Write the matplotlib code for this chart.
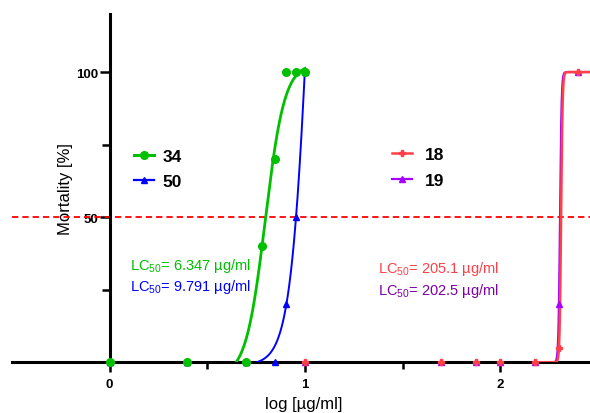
import numpy as np
import matplotlib
matplotlib.use("Agg")
import matplotlib.pyplot as plt
from matplotlib.ticker import FixedLocator

plt.rcParams['font.family'] = ['Liberation Sans', 'DejaVu Sans']
plt.rcParams['mathtext.fontset'] = 'custom'
plt.rcParams['mathtext.rm'] = 'Liberation Sans'

# ---- data (concentrations in µg/ml, mortality in %) ----
conc_34 = [1, 2.5, 5, 6, 7, 8, 9, 10]
mort_34 = [0, 0, 0, 40, 70, 100, 100, 100]

conc_50 = [1, 2.5, 5, 7, 8, 9, 10]
mort_50 = [0, 0, 0, 0, 20, 50, 100]

conc_18 = [1, 2.5, 5, 10, 50, 75, 100, 150, 200, 250]
mort_18 = [0, 0, 0, 0, 0, 0, 0, 0, 5, 100]

conc_19 = [1, 2.5, 5, 10, 50, 75, 100, 150, 200, 250]
mort_19 = [0, 0, 0, 0, 0, 0, 0, 0, 20, 100]

# fitted dose-response curve parameters (bottom, top, logLC50, hill slope)
fit_34 = (-5, 103, 0.797, 8.8)
fit_50 = (-1, 300, 1.033, 8.8)
fit_18 = (0, 100, 2.312, 115)
fit_19 = (0, 100, 2.3064, 110)

lc50_labels = {
    '34': 'LC$_{\\mathregular{50}}$= 6.347 µg/ml',
    '50': 'LC$_{\\mathregular{50}}$= 9.791 µg/ml',
    '18': 'LC$_{\\mathregular{50}}$= 205.1 µg/ml',
    '19': 'LC$_{\\mathregular{50}}$= 202.5 µg/ml',
}

x_ticks = [0, 1, 2]
x_minor = [0.5, 1.5]
y_ticks = [50, 100]
y_minor = [25, 75]

GREEN = '#00C000'
BLUE = '#0000FF'
RED = '#FF4048'
PURPLE = '#A600FF'
PURPLE_TXT = '#7E00A6'


def fourpl(x, p):
    b, t, c, h = p
    return b + (t - b) / (1.0 + 10 ** ((c - x) * h))


fig = plt.figure(figsize=(5.9, 4.14), dpi=100)
ax = fig.add_axes([12 / 590, (414 - 363.3) / 414, 578 / 590, (363.3 - 15) / 414])
ax.set_xlim(-0.5, 2.46)
ax.set_ylim(0, 120)

# fitted curves
xg = np.linspace(0.6, 1.0, 400)
yg = fourpl(xg, fit_34)
m = yg >= 0
xb = np.linspace(0.7, 1.0, 400)
yb = fourpl(xb, fit_50)
mb = yb >= 0
xr = np.linspace(np.log10(150), 2.5, 800)

ax.plot(xr, fourpl(xr, fit_19), color=PURPLE, lw=1.6, zorder=3)
ax.plot(xr, fourpl(xr, fit_18), color=RED, lw=1.8, zorder=3.1)
ax.plot(xb[mb], yb[mb], color=BLUE, lw=1.4, zorder=3.2)
ax.plot(xg[m], yg[m], color=GREEN, lw=2.0, zorder=3.3)

# data points
ax.plot(np.log10(conc_19), mort_19, ls='none', marker='^', ms=5, color=PURPLE, zorder=4, clip_on=False)
ax.plot(np.log10(conc_18), mort_18, ls='none', marker='P', ms=4.5, color=RED, zorder=4.1, clip_on=False)
ax.plot(np.log10(conc_50), mort_50, ls='none', marker='^', ms=5, color=BLUE, zorder=4.2, clip_on=False)
ax.plot(np.log10(conc_34), mort_34, ls='none', marker='o', ms=5.5, color=GREEN, zorder=4.3, clip_on=False)

# 50 % line
ax.axhline(50, color='#FF0000', lw=1.3, ls=(0, (3.5, 2.2)), zorder=2)

# legend handles
h34, = ax.plot([], [], color=GREEN, lw=2.2, marker='o', ms=5.5, label='34')
h50, = ax.plot([], [], color=BLUE, lw=1.6, marker='^', ms=5, label='50')
h18, = ax.plot([], [], color=RED, lw=1.8, marker='P', ms=4.5, label='18')
h19, = ax.plot([], [], color=PURPLE, lw=1.6, marker='^', ms=5, label='19')

leg1 = ax.legend(handles=[h34, h50], loc='center left',
                 bbox_to_anchor=(134 / 590, 1 - 170 / 414), bbox_transform=fig.transFigure,
                 frameon=False, borderpad=0, borderaxespad=0, handlelength=1.15,
                 handletextpad=0.5, labelspacing=0.6, prop={'size': 12.5, 'weight': 'bold'})
ax.add_artist(leg1)
ax.legend(handles=[h18, h19], loc='center left',
          bbox_to_anchor=(392 / 590, 1 - 168.5 / 414), bbox_transform=fig.transFigure,
          frameon=False, borderpad=0, borderaxespad=0, handlelength=1.15,
          handletextpad=0.75, labelspacing=0.6, prop={'size': 12.5, 'weight': 'bold'})

# LC50 annotations
fig.text(130 / 590, 1 - 266 / 414, lc50_labels['34'], color=GREEN, fontsize=10.5, va='center', ha='left')
fig.text(130 / 590, 1 - 287 / 414, lc50_labels['50'], color=BLUE, fontsize=10.5, va='center', ha='left')
fig.text(377.5 / 590, 1 - 269 / 414, lc50_labels['18'], color=RED, fontsize=10.5, va='center', ha='left')
fig.text(377.5 / 590, 1 - 291 / 414, lc50_labels['19'], color=PURPLE_TXT, fontsize=10.5, va='center', ha='left')

# axes styling
for s in ['top', 'right']:
    ax.spines[s].set_visible(False)
ax.spines['left'].set_position(('data', 0))
ax.spines['left'].set_linewidth(2.2)
ax.spines['bottom'].set_linewidth(2.2)

ax.xaxis.set_major_locator(FixedLocator(x_ticks))
ax.xaxis.set_minor_locator(FixedLocator(x_minor))
ax.yaxis.set_major_locator(FixedLocator(y_ticks))
ax.yaxis.set_minor_locator(FixedLocator(y_minor))
ax.set_xticklabels([str(v) for v in x_ticks], fontsize=9.5, fontweight='bold')
ax.set_yticklabels([str(v) for v in y_ticks], fontsize=9.5, fontweight='bold')
ax.tick_params(axis='x', which='major', direction='out', length=7, width=1.8, pad=4.5)
ax.tick_params(axis='x', which='minor', direction='out', length=5, width=1.8)
ax.tick_params(axis='y', which='major', direction='out', length=7, width=1.8, pad=1.5)
ax.tick_params(axis='y', which='minor', direction='out', length=6, width=1.8)

ax.set_ylabel('Mortality [%]', fontsize=12, va='center', ha='center')
ax.yaxis.set_label_coords((65.5 - 12) / 578, 0.5)
ax.set_xlabel('log [µg/ml]', fontsize=12, va='center', ha='center')
ax.xaxis.set_label_coords((304 - 12) / 578, (363.3 - 404.5) / 348.3)

fig.savefig('out.png', dpi=100)
